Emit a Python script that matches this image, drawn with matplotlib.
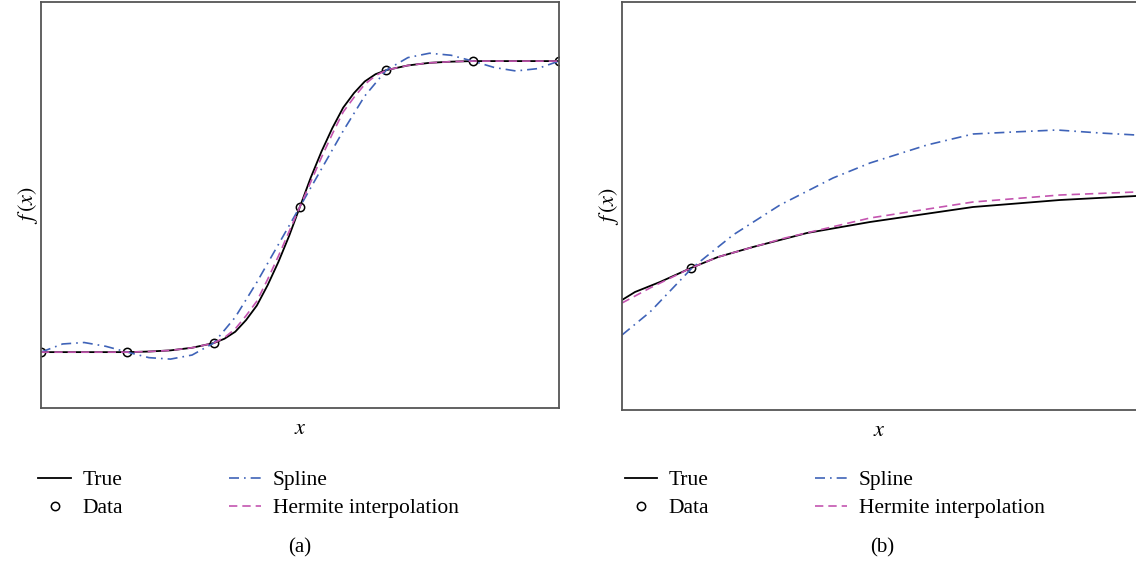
import matplotlib
matplotlib.use('Agg')
import matplotlib.pyplot as plt

plt.rcParams['font.family'] = 'Liberation Serif'
plt.rcParams['mathtext.fontset'] = 'stix'

# panel (a): data points and curves
xa_data = [0, 1, 2, 3, 4, 5, 6]
ya_data = [0, 0, 0.031, 0.5, 0.969, 1.0, 1.0]

xa_curve = [0, 0.5, 1, 1.25, 1.5, 1.75, 2, 2.125, 2.25, 2.375, 2.5, 2.625, 2.75, 2.875,
            3, 3.125, 3.25, 3.375, 3.5, 3.625, 3.75, 3.875, 4, 4.25, 4.5, 4.75, 5, 5.5, 6]
ya_true = [0, 0, 0, 0.002, 0.006, 0.015, 0.031, 0.046, 0.07, 0.11, 0.16, 0.23, 0.31, 0.4,
           0.5, 0.6, 0.69, 0.77, 0.84, 0.89, 0.93, 0.955, 0.969, 0.985, 0.994, 0.998, 1.0, 1.0, 1.0]
ya_herm = [0, 0, 0, 0.002, 0.006, 0.015, 0.031, 0.05, 0.08, 0.125, 0.175, 0.25, 0.33, 0.415,
           0.5, 0.585, 0.67, 0.75, 0.825, 0.875, 0.92, 0.95, 0.969, 0.985, 0.994, 0.998, 1.0, 1.0, 1.0]

xa_spl = [0, 0.25, 0.5, 0.75, 1, 1.25, 1.5, 1.75, 2, 2.25, 2.5, 2.75, 3, 3.25, 3.5, 3.75,
          4, 4.25, 4.5, 4.75, 5, 5.25, 5.5, 5.75, 6]
ya_spl = [0, 0.028, 0.033, 0.02, 0, -0.019, -0.024, -0.01, 0.031, 0.12, 0.24, 0.37, 0.5,
          0.63, 0.76, 0.88, 0.969, 1.012, 1.027, 1.02, 1.0, 0.978, 0.966, 0.974, 1.0]

# panel (b): zoomed view
xb_data = [0.69]
yb_data = [1.42]

xb_true = [0, 0.13, 0.38, 0.69, 0.96, 1.31, 1.85, 2.48, 3.51, 4.38, 5.14]
yb_true = [1.10, 1.18, 1.28, 1.42, 1.53, 1.63, 1.77, 1.88, 2.03, 2.10, 2.14]

xb_herm = [0, 0.28, 0.69, 0.96, 1.63, 2.48, 3.51, 4.38, 5.14]
yb_herm = [1.07, 1.22, 1.42, 1.53, 1.72, 1.92, 2.08, 2.15, 2.18]

xb_spl = [0, 0.28, 0.70, 1.11, 1.58, 2.11, 2.48, 3.05, 3.51, 3.91, 4.35, 4.78, 5.14]
yb_spl = [0.75, 0.98, 1.42, 1.75, 2.05, 2.32, 2.47, 2.65, 2.76, 2.78, 2.80, 2.77, 2.75]

blue = '#3f63b8'
pink = '#c455b0'

fig = plt.figure(figsize=(11.36, 5.61), dpi=100)
ax1 = fig.add_axes([41/1136, 153/561, 518/1136, 406/561])
ax2 = fig.add_axes([622/1136, 151/561, 514/1136, 408/561])


def draw(ax, xt, yt, xs, ys, xh, yh, xd, yd, leg_x, leg_y):
    ax.plot(xt, yt, color='black', lw=1.3, label='True')
    ax.plot(xd, yd, 'o', mfc='none', mec='black', ms=6, mew=1.1, label='Data')
    ax.plot(xs, ys, color=blue, lw=1.2, dashes=(6, 3, 1, 3), label='Spline')
    ax.plot(xh, yh, color=pink, lw=1.2, dashes=(5, 3), label='Hermite interpolation')
    ax.set_xticks([])
    ax.set_yticks([])
    for s in ax.spines.values():
        s.set_color('#555555')
        s.set_linewidth(1.3)
    ax.set_xlabel('$x$', fontsize=16, labelpad=9)
    ax.set_ylabel('$f\\,(x)$', fontsize=16, labelpad=1)
    ax.legend(loc='upper left', bbox_to_anchor=(leg_x, leg_y), ncol=2, frameon=False,
              fontsize=15.5, handlelength=1.5, handletextpad=0.55, columnspacing=4.9,
              labelspacing=0.37, borderpad=0, borderaxespad=0)


draw(ax1, xa_curve, ya_true, xa_spl, ya_spl, xa_curve, ya_herm, xa_data, ya_data, -0.005, -0.153)
ax1.set_xlim(0, 6)
ax1.set_ylim(-0.192, 1.203)

draw(ax2, xb_true, yb_true, xb_spl, yb_spl, xb_herm, yb_herm, xb_data, yb_data, 0.005, -0.147)
ax2.set_xlim(0, 5.14)
ax2.set_ylim(0, 4.08)
ax2.spines['right'].set_visible(False)

fig.text(300/1136, 1 - 548/561, '(a)', ha='center', va='center', fontsize=15)
fig.text(882/1136, 1 - 548/561, '(b)', ha='center', va='center', fontsize=15)

fig.savefig('out.png', dpi=100)
